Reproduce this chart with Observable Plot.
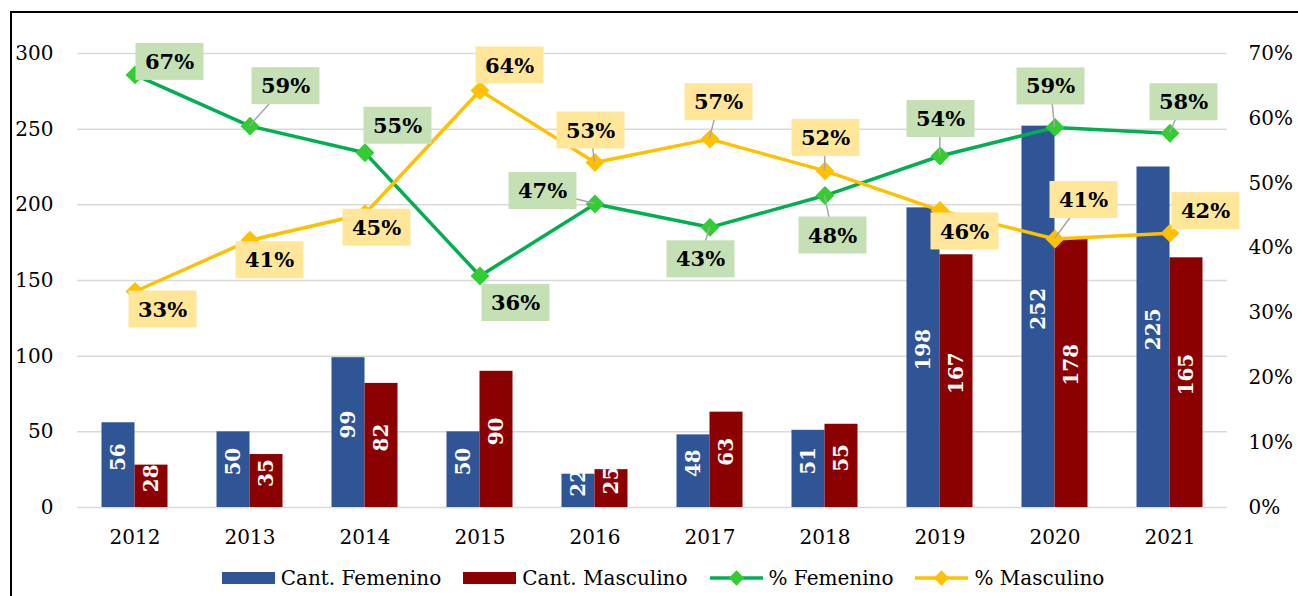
<!DOCTYPE html>
<html>
<head>
<meta charset="utf-8">
<script src="https://cdn.jsdelivr.net/npm/d3@7"></script>
<script src="https://cdn.jsdelivr.net/npm/@observablehq/plot@0.6"></script>
<style>
  html, body { margin: 0; padding: 0; background: #fff; }
  body { width: 1298px; height: 596px; position: relative; overflow: hidden; font-family: "DejaVu Serif", serif; }
  #frame { position: absolute; left: 10px; top: 11px; right: -10px; bottom: -10px; border-top: 2px solid #000; border-left: 2px solid #000; pointer-events: none; }
  #legend { position: absolute; left: 0; top: 560px; width: 1298px; height: 36px; display: flex; justify-content: center; align-items: center; padding-left: 28px; box-sizing: border-box; font-size: 20px; color: #000; }
  .item { display: flex; align-items: center; margin: 0 11px; }
  .item svg { margin-right: 6px; }
</style>
</head>
<body>
<div id="chart"></div>
<div id="legend"></div>
<div id="frame"></div>
<script>
// ---- data ----
const years = ["2012","2013","2014","2015","2016","2017","2018","2019","2020","2021"];
const cantFemenino = [56, 50, 99, 50, 22, 48, 51, 198, 252, 225];
const cantMasculino = [28, 35, 82, 90, 25, 63, 55, 167, 178, 165];
const pctFemenino = [66.7, 58.8, 54.7, 35.7, 46.8, 43.2, 48.1, 54.2, 58.6, 57.7];
const pctMasculino = [33.3, 41.2, 45.3, 64.3, 53.2, 56.8, 51.9, 45.8, 41.4, 42.3];
const leftTicks = [0, 50, 100, 150, 200, 250, 300];
const rightTicks = [0, 10, 20, 30, 40, 50, 60, 70];
const seriesNames = ["Cant. Femenino", "Cant. Masculino", "% Femenino", "% Masculino"];

// ---- layout of the percentage labels (pixel offsets of the label box from its point) ----
const femLabelOffset = [[35,-13],[36,-40],[33,-27],[36,27],[-52,-13],[-9,32],[8,40],[1,-37],[-4,-41],[14,-31]];
const mascLabelOffset = [[28,18],[20,20],[12,14],[30,-25],[-4,-32],[9,-37],[1,-33],[25,21],[29,-39],[36,-22]];
const femLeader = [0,1,0,0,1,1,1,1,1,1];
const mascLeader = [0,0,0,0,1,1,1,0,1,0];

const colors = {
  fem: "#2F5597", masc: "#8B0000",
  femLine: "#00B050", femMarker: "#33CC33", mascLine: "#FFC000", mascMarker: "#FFC000",
  femBox: "#C5E0B4", mascBox: "#FFE699"
};

const leftMax = 300, rightMax = 70;
const toLeft = p => p * leftMax / rightMax;

const rows = years.map((year, i) => ({
  year, fem: cantFemenino[i], masc: cantMasculino[i], pf: pctFemenino[i], pm: pctMasculino[i], i
}));

function boxedLabels(key, offsets, leaders, boxFill) {
  return Plot.text(rows, {
    x: "year",
    y: d => toLeft(d[key]),
    text: d => Math.round(d[key]) + "%",
    render(index, scales, values) {
      const half = scales.x.bandwidth ? scales.x.bandwidth() / 2 : 0;
      const g = d3.create("svg:g");
      const bw = 68, bh = 37;
      for (const i of index) {
        const px = values.x[i] + half, py = values.y[i];
        const cx = px + offsets[i][0], cy = py + offsets[i][1];
        if (leaders[i]) {
          g.append("line").attr("x1", px).attr("y1", py).attr("x2", cx).attr("y2", cy)
            .attr("stroke", "#A6A6A6").attr("stroke-width", 1.5);
        }
        g.append("rect").attr("x", cx - bw / 2).attr("y", cy - bh / 2)
          .attr("width", bw).attr("height", bh).attr("fill", boxFill);
        g.append("text").attr("x", cx).attr("y", cy).attr("dy", "0.36em")
          .attr("text-anchor", "middle").attr("font-weight", "bold")
          .attr("font-size", 21).attr("fill", "#000")
          .text(Math.round(rows[i][key]) + "%");
      }
      return g.node();
    }
  });
}

const chart = Plot.plot({
  width: 1298,
  height: 560,
  marginTop: 53,
  marginBottom: 53,
  marginLeft: 77,
  marginRight: 71,
  style: { fontFamily: "DejaVu Serif", fontSize: "20px", color: "#000", background: "transparent" },
  x: { type: "band", domain: years, paddingInner: 0.713, paddingOuter: 0.3565 },
  y: { domain: [0, leftMax] },
  marks: [
    Plot.gridY(leftTicks, { stroke: "#D9D9D9", strokeOpacity: 1, strokeWidth: 1.5 }),
    Plot.axisY(leftTicks, { anchor: "left", tickSize: 0, tickPadding: 24, label: null, fontSize: 20 }),
    Plot.axisY(rightTicks.map(toLeft), { anchor: "right", tickSize: 0, tickPadding: 21, label: null, fontSize: 20,
      tickFormat: v => Math.round(v * rightMax / leftMax) + "%" }),
    Plot.axisX({ tickSize: 0, tickPadding: 22, label: null, fontSize: 20 }),
    Plot.barY(rows, { x: "year", y: "fem", fill: colors.fem, dx: -16.5 }),
    Plot.barY(rows, { x: "year", y: "masc", fill: colors.masc, dx: 16.5 }),
    Plot.text(rows, { x: "year", y: d => d.fem / 2, text: d => String(d.fem), rotate: -90, dx: -16.5, dy: -8,
      fill: "white", fontWeight: "bold", fontSize: 20 }),
    Plot.text(rows, { x: "year", y: d => d.masc / 2, text: d => String(d.masc), rotate: -90, dx: 16.5, dy: -8,
      fill: "white", fontWeight: "bold", fontSize: 20 }),
    Plot.line(rows, { x: "year", y: d => toLeft(d.pf), stroke: colors.femLine, strokeWidth: 3.5 }),
    Plot.line(rows, { x: "year", y: d => toLeft(d.pm), stroke: colors.mascLine, strokeWidth: 3.5 }),
    Plot.dot(rows, { x: "year", y: d => toLeft(d.pf), symbol: "diamond2", r: 8.5, fill: colors.femMarker, stroke: "none" }),
    Plot.dot(rows, { x: "year", y: d => toLeft(d.pm), symbol: "diamond2", r: 8.5, fill: colors.mascMarker, stroke: "none" }),
    boxedLabels("pf", femLabelOffset, femLeader, colors.femBox),
    boxedLabels("pm", mascLabelOffset, mascLeader, colors.mascBox)
  ]
});
document.getElementById("chart").appendChild(chart);

// ---- legend ----
const legend = d3.select("#legend");
const legendDefs = [
  { name: seriesNames[0], kind: "rect", color: colors.fem },
  { name: seriesNames[1], kind: "rect", color: colors.masc },
  { name: seriesNames[2], kind: "line", color: colors.femLine, marker: colors.femMarker },
  { name: seriesNames[3], kind: "line", color: colors.mascLine, marker: colors.mascMarker }
];
for (const d of legendDefs) {
  const item = legend.append("div").attr("class", "item");
  const s = item.append("svg").attr("width", 53).attr("height", 20);
  if (d.kind === "rect") {
    s.append("rect").attr("x", 0).attr("y", 4).attr("width", 53).attr("height", 12).attr("fill", d.color);
  } else {
    s.append("line").attr("x1", 0).attr("x2", 53).attr("y1", 10).attr("y2", 10)
      .attr("stroke", d.color).attr("stroke-width", 3.5);
    s.append("path").attr("transform", "translate(26.5,10)")
      .attr("d", d3.symbol(d3.symbolDiamond2, 150)()).attr("fill", d.marker);
  }
  item.append("span").text(d.name);
}
</script>
</body>
</html>
